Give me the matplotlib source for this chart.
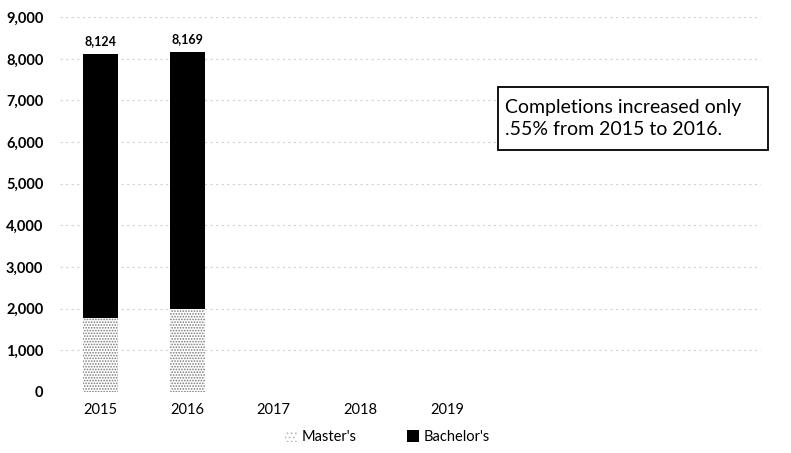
import matplotlib.pyplot as plt
from matplotlib.patches import Patch, Rectangle
from matplotlib.ticker import FuncFormatter

years = ["2015", "2016", "2017", "2018", "2019"]
masters = [1775, 1990]
totals = [8124, 8169]
bachelors = [t - m for t, m in zip(totals, masters)]

plt.rcParams['font.family'] = ['Lato', 'DejaVu Sans']
plt.rcParams['hatch.linewidth'] = 0.8

fig = plt.figure(figsize=(7.91, 4.53), dpi=100)
ax = fig.add_axes([0.076, 0.135, 0.886, 0.827])

x = list(range(len(masters)))
w = 0.4
ax.bar(x, masters, width=w, color='white', edgecolor='#7a7a7a', hatch='......',
       linewidth=0, zorder=3)
ax.bar(x, bachelors, width=w, bottom=masters, color='black', zorder=3)
for xi, t in zip(x, totals):
    ax.text(xi, t + 150, f"{t:,}", ha='center', va='bottom', fontsize=9,
            fontweight='bold')

ax.set_xlim(-0.47, 7.63)
ax.set_ylim(0, 9000)
ax.set_yticks(range(0, 9001, 1000))
ax.yaxis.set_major_formatter(FuncFormatter(lambda v, p: f"{int(v):,}"))
ax.set_xticks(range(len(years)))
ax.set_xticklabels(years)
ax.tick_params(axis='both', length=0, labelsize=10.5)
ax.tick_params(axis='y', pad=12)
ax.tick_params(axis='x', pad=8)
for lab in ax.get_yticklabels():
    lab.set_fontweight('bold')
ax.grid(axis='y', color='#d2d2d2', linestyle=(0, (2, 3)), linewidth=0.8, zorder=0)
for s in ax.spines.values():
    s.set_visible(False)

# annotation box
fig.patches.append(Rectangle((0.630, 0.669), 0.341, 0.139, transform=fig.transFigure,
                             facecolor='white', edgecolor='black', linewidth=1.3,
                             zorder=5))
fig.text(0.639, 0.739, "Completions increased only\n.55% from 2015 to 2016.",
         fontsize=14, va='center', ha='left', linespacing=1.35, zorder=6)

handles = [Patch(facecolor='white', edgecolor='#bbbbbb', hatch='....', linewidth=0),
           Patch(facecolor='black')]
fig.legend(handles, ["Master's", "Bachelor's"], loc='center', ncol=2,
           bbox_to_anchor=(0.49, 0.035), frameon=False, fontsize=10.5,
           handlelength=0.8, handleheight=0.8, columnspacing=3.5, handletextpad=0.3)

fig.savefig("out.png", dpi=100)
